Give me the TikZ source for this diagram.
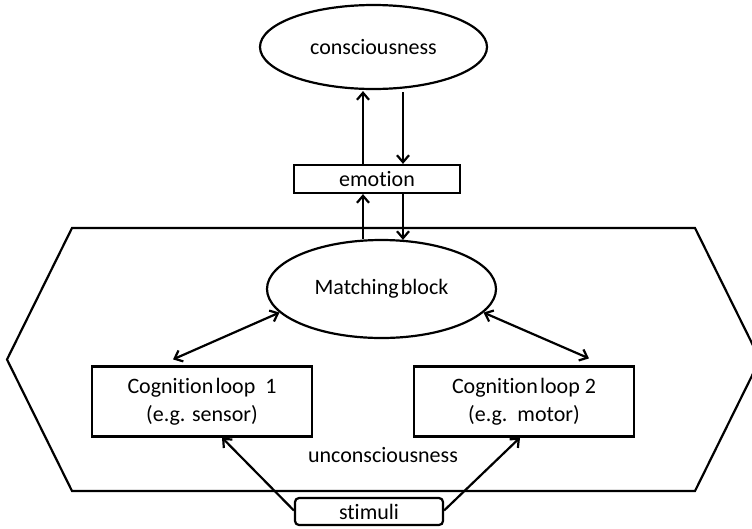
\documentclass[tikz,border=0pt]{standalone}
\usepackage{fontspec}
\setmainfont{Carlito}[Ligatures=NoCommon]
\usetikzlibrary{arrows.meta,shapes.geometric,calc}
\begin{document}
\begin{tikzpicture}[x=1pt,y=-1pt,
  every node/.style={font=\fontsize{22}{28}\selectfont},
  lw/.style={line width=2.2pt},
  ell/.style={draw,lw,ellipse,inner sep=0pt},
  box/.style={draw,lw,rectangle,inner sep=0pt,align=center},
  arr/.style={lw,-{Straight Barb[length=7pt,width=12pt,line width=2.2pt]}},
  darr/.style={lw,{Straight Barb[length=7pt,width=12pt,line width=2.2pt]}-{Straight Barb[length=7pt,width=12pt,line width=2.2pt]}}
]
\useasboundingbox (0,0) rectangle (752,528);
\fill[white] (0,0) rectangle (752,528);

% hexagon (unconsciousness region)
\begin{scope}
  \clip (0,0) rectangle (752,528);
  \draw[lw,line join=miter] (72,228) -- (695,228) -- (760,359.5) -- (695,491) -- (72,491) -- (7,359.5) -- cycle;
\end{scope}

\node[ell,minimum width=227pt,minimum height=84pt] (conscious) at (373.5,47) {consciousness};
\node[box,minimum width=166pt,minimum height=28pt] (emotion) at (377,179) {emotion};
\node[ell,minimum width=229pt,minimum height=98pt] (match) at (381.5,289) {Matching\hspace{0.1em}block};
\node[box,minimum width=220pt,minimum height=70pt] (cog1) at (202,401.5) {Cognition\hspace{0.1em}loop~~1\\(e.g. sensor)};
\node[box,minimum width=220pt,minimum height=70pt] (cog2) at (524,401.5) {Cognition\hspace{0.1em}loop 2\\(e.g.~~motor)};
\node (uncon) at (383,455) {unconsciousness};
\node[box,rounded corners=4pt,minimum width=148pt,minimum height=27pt] (stimuli) at (369,511.5) {stimuli};

\coordinate (upx) at (363,0);
\coordinate (dnx) at (403,0);

% vertical arrows
\draw[arr] (match.north -| upx) -- (emotion.south -| upx);
\draw[arr] (emotion.north -| upx) -- ([yshift=-1pt]conscious.south -| upx);
\draw[arr] ([yshift=-2pt]conscious.south -| dnx) -- (emotion.north -| dnx);
\draw[arr] (emotion.south -| dnx) -- ([yshift=-1pt]match.north -| dnx);

% double arrows
\draw[darr] ([xshift=-29pt,yshift=6pt]cog1.north) -- (match.193);
\draw[darr] (match.347) -- ([xshift=65pt,yshift=7pt]cog2.north);

% stimuli arrows
\draw[arr] ([yshift=1pt]stimuli.west) -- ([xshift=20pt]cog1.south);
\draw[arr] ([yshift=1pt]stimuli.east) -- ([xshift=-4pt]cog2.south);
\end{tikzpicture}
\end{document}
